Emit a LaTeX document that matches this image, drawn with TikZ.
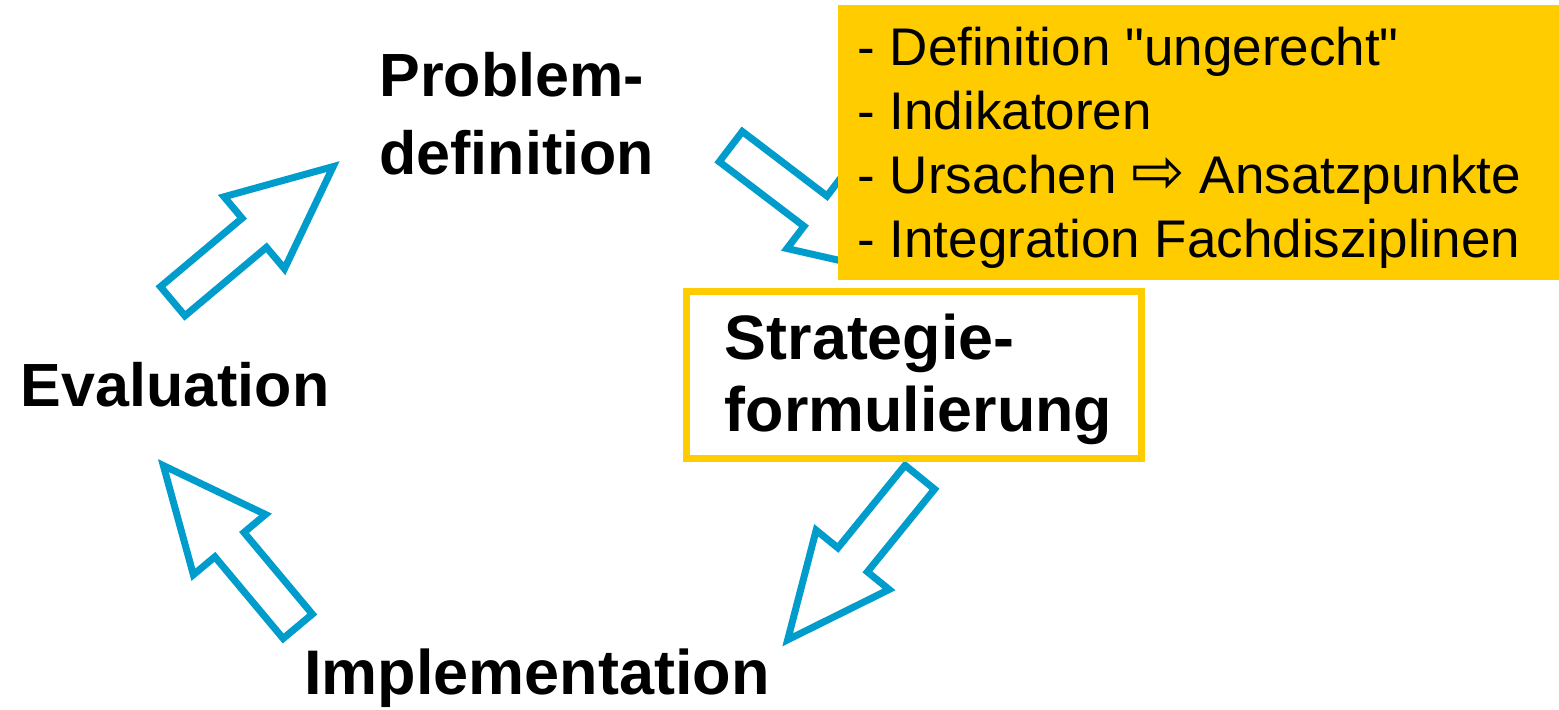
\documentclass[tikz,border=0pt]{standalone}
\usepackage{fontspec}
\setmainfont{Liberation Sans}
\newfontfamily\symbolfont{DejaVu Sans}
\newfontfamily\geradefont{Liberation Sans}
\definecolor{kreisblau}{RGB}{0,156,204}
\definecolor{gelb}{RGB}{255,204,0}
\tikzset{
	pfeillinie/.style={draw=kreisblau, line width=3.5pt, line join=miter, fill=white},
	blockpfeil/.pic={
		\path[pfeillinie] (3.5,-19) -- (110,-19) -- (110,-47) -- (213,0) -- (110,47) -- (110,19) -- (3.5,19) -- cycle;
	},
	phase/.style={font=\bfseries\fontsize{30.5}{39}\selectfont, align=left, inner sep=0pt, anchor=base west},
	listenfeld/.style={fill=gelb, inner sep=0pt, anchor=north west, minimum width=360.5pt, minimum height=137.5pt},
	rahmen/.style={draw=gelb, line width=3.5pt, fill=white},
}

\begin{document}
\begin{tikzpicture}[x=0.5pt, y=-0.5pt]
		\useasboundingbox (0,0) rectangle (1559,710);
		\pic[rotate=40] (pfeilA) at (170,303.5) {blockpfeil};
		\pic[rotate=-37.3] (pfeilB) at (728,144.5) {blockpfeil};
		\pic[rotate=230.9] (pfeilC) at (922,474.5) {blockpfeil};
		\pic[rotate=129.9] (pfeilD) at (300,629) {blockpfeil};
		\node[phase] (problem) at (379,175) {Problem-\\definition};
		\node[phase] (evaluation) at (20.5,407) {Evaluation};
		\node[phase, font=\bfseries\fontsize{31.5}{39}\selectfont] (implementation) at (304,695) {Implementation};
		\node[listenfeld] (feld) at (838,5) {};
		\node[anchor=base west, inner sep=0pt, align=left, font=\fontsize{26.5}{32.15}\selectfont] (liste) at (857,258)
		{
			- Definition {\geradefont "}ungerecht{\geradefont "}\\
			- Indikatoren\\
			- Ursachen {\symbolfont\fontsize{32}{32}\selectfont ⇨} Ansatzpunkte\\
			- Integration Fachdisziplinen
		};
		\draw[rahmen] (686.5,291.5) rectangle (1141.5,458.5);
		\node[phase, font=\bfseries\fontsize{31.4}{36}\selectfont] (strategie) at (724.5,432) {Strategie-\\formulierung};
	\end{tikzpicture}
\end{document}
